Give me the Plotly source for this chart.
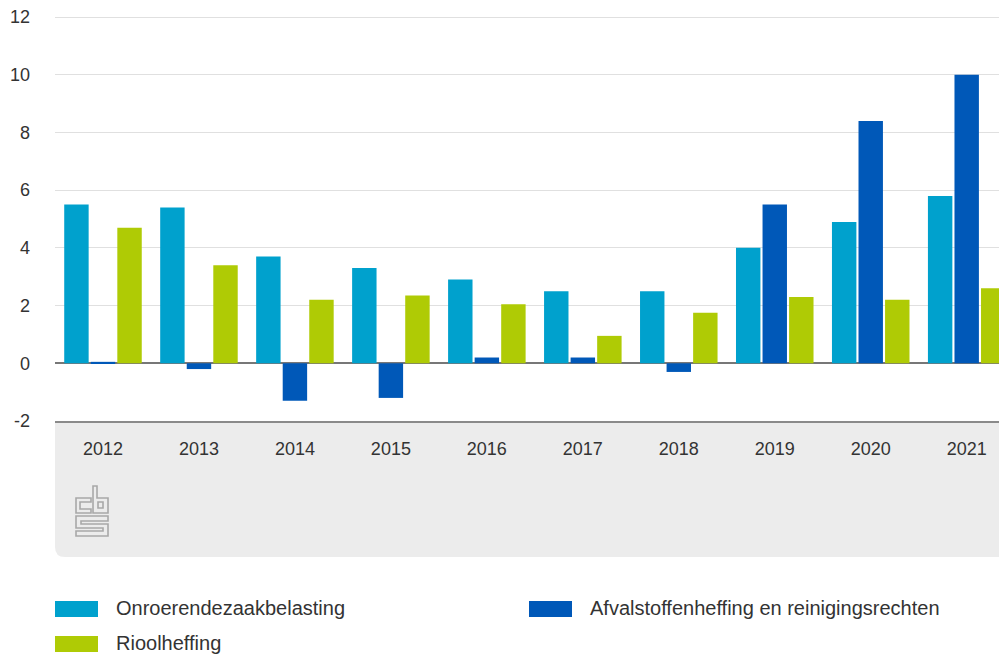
import plotly.graph_objects as go

# jaarlijkse stijging gemeentelijke heffingen (%)
years = ["2012", "2013", "2014", "2015", "2016", "2017", "2018", "2019", "2020", "2021"]
ozb = [5.5, 5.4, 3.7, 3.3, 2.9, 2.5, 2.5, 4.0, 4.9, 5.8]
afval = [0.05, -0.2, -1.3, -1.2, 0.2, 0.2, -0.3, 5.5, 8.4, 10.0]
riool = [4.7, 3.4, 2.2, 2.35, 2.05, 0.95, 1.75, 2.3, 2.2, 2.6]

series_names = ["Onroerendezaakbelasting", "Afvalstoffenheffing en reinigingsrechten", "Rioolheffing"]
colors = ["#00a1cd", "#0058b8", "#afcb05"]

y_ticks = [-2, 0, 2, 4, 6, 8, 10, 12]
y_ticktext = ["-2", "0", "2", "4", "6", "8", "10", "12"]

# the page body has an 8px margin, so the figure is placed 8px in from the corner
OFF = 8
W, H = 1007 - OFF, 654 - OFF
L, R, T, B = 55 - OFF, 0, 6, 654 - 421
PW, PH = W - L - R, H - T - B
unit = 404 / 14  # pixels per percent point
y_top = 12 + (17 - OFF - T) / unit


def px(x):
    # screen pixel -> paper x
    return (x - OFF - L) / PW


def py(y):
    # screen pixel -> paper y
    return (H - B - (y - OFF)) / PH


fig = go.Figure()
for name, vals, col in zip(series_names, [ozb, afval, riool], colors):
    fig.add_trace(go.Bar(x=years, y=vals, name=name, marker=dict(color=col, line=dict(width=0))))

shapes = []
# grijs vlak onder de as
r = 10
x0, x1, y0, y1 = px(55), px(1020), py(421), py(557)
rx, ry = r / PW, r / PH
shapes.append(dict(type="path", xref="paper", yref="paper", layer="below",
                   path=f"M {x0},{y0} L {x1},{y0} L {x1},{y1} L {x0+rx},{y1} Q {x0},{y1} {x0},{y1+ry} Z",
                   fillcolor="#ececec", line=dict(width=0)))


# cbs logo
def poly(pts):
    return "M " + " L ".join(f"{px(a)},{py(b)}" for a, b in pts) + " Z"


logo = [
    [(91, 498), (76, 498), (76, 513), (91, 513), (91, 509), (80, 509), (80, 502), (91, 502)],
    [(93, 486), (97, 486), (97, 498), (108, 498), (108, 513), (93, 513)],
    [(98, 502), (103, 502), (103, 508), (98, 508)],
    [(76, 516), (108, 516), (108, 521), (81, 521), (81, 524), (108, 524), (108, 536),
     (76, 536), (76, 531), (103, 531), (103, 528), (76, 528)],
]
for p in logo:
    shapes.append(dict(type="path", xref="paper", yref="paper", path=poly(p),
                       line=dict(color="#a8a8a8", width=1.6)))

# legenda
legend_items = [(55, 609, 0), (529, 609, 1), (55, 644, 2)]
annotations = []
for lx, ly, i in legend_items:
    shapes.append(dict(type="rect", xref="paper", yref="paper",
                       x0=px(lx), x1=px(lx + 43), y0=py(ly - 8), y1=py(ly + 8),
                       fillcolor=colors[i], line=dict(width=0)))
    annotations.append(dict(xref="paper", yref="paper", x=px(lx + 59), y=py(ly - 1),
                            xanchor="left", yanchor="middle", showarrow=False,
                            text=series_names[i], font=dict(size=20, color="#333333")))

fig.update_layout(
    width=W, height=H,
    margin=dict(l=L, r=R, t=T, b=B),
    barmode="group", bargap=0.17, bargroupgap=0.08,
    showlegend=False,
    plot_bgcolor="white", paper_bgcolor="white",
    font=dict(family="Liberation Sans, Arial, sans-serif", size=18, color="#333333"),
    shapes=shapes, annotations=annotations,
)
fig.update_xaxes(range=[-0.5, 9.42], showgrid=False, showline=True, linecolor="#8a8a8a",
                 linewidth=2, ticks="", ticklabelstandoff=10, tickfont=dict(size=18, color="#333333"))
fig.update_yaxes(range=[-2, y_top], tickvals=y_ticks, ticktext=y_ticktext, showgrid=True,
                 gridcolor="#e0e0e0", gridwidth=1, zeroline=True, zerolinecolor="#777777",
                 zerolinewidth=2, ticks="", ticklabelstandoff=24, ticklabeloverflow="allow",
                 tickfont=dict(size=18, color="#333333"))

fig.write_html("out.html")
